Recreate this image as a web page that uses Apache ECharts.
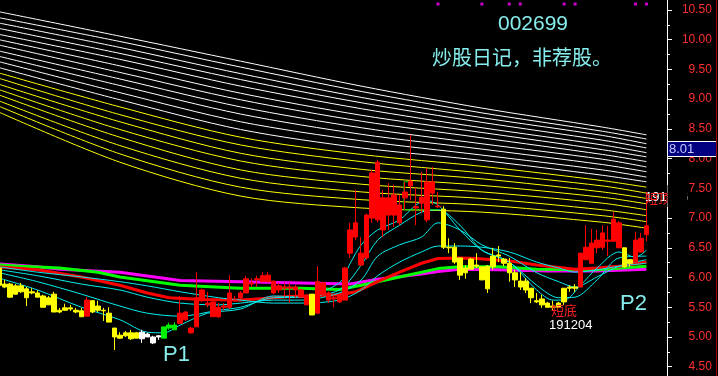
<!DOCTYPE html>
<html><head><meta charset="utf-8">
<script src="https://cdn.jsdelivr.net/npm/echarts@6/dist/echarts.min.js"></script>
<style>html,body{margin:0;padding:0;background:#000;}#c{width:718px;height:376px;}</style>
</head><body><div id="c"></div>
<script>
// ---- candles (price values) ----
const candleOpen  = [6.16,5.89,5.89,5.86,5.86,5.81,5.76,5.74,5.69,5.66, 5.72,5.45,5.49,5.49,5.45,5.44,5.35,5.61,5.52,5.45, 5.40,5.15,5.03,5.07,5.07,5.07,5.08,5.05,5.00,5.00, 4.98,5.15,5.12,5.23,5.29,5.07,5.17,5.61,5.54,5.34, 5.34,5.50,5.50,5.61,5.66,5.74,5.89,5.96,5.93,5.93, 5.74,5.79,5.82,5.82,5.79,5.67,5.54,5.72,5.40,5.71, 5.62,5.64,5.59,5.62,6.41,6.68,6.21,6.33,7.00,6.97, 6.80,7.05,7.05,6.92,7.34,7.54,7.17,7.25,6.97,7.42, 7.19,7.15,6.51,6.51,6.33,6.16,6.31,6.21,6.18,6.19, 6.36,6.38,6.31,6.24,6.08,5.94,5.94,5.82,5.61,5.64, 5.57,5.52,5.57,5.59,5.84,5.84,5.84,6.30,6.24,6.50, 6.51,6.61,6.61,6.50,6.50,6.30,6.26,6.43,6.72];
const candleClose = [5.87,5.84,5.67,5.72,5.76,5.66,5.74,5.67,5.50,5.54, 5.42,5.42,5.45,5.47,5.42,5.34,5.62,5.42,5.45,5.44, 5.25,5.00,4.98,5.02,4.97,4.98,4.97,5.00,4.90,5.02, 5.17,5.20,5.20,5.40,5.42,5.15,5.66,5.79,5.57,5.59, 5.50,5.52,5.74,5.62,5.74,5.98,5.91,5.98,6.03,6.04, 5.94,5.86,5.84,5.84,5.84,5.79,5.69,5.37,5.93,5.91, 5.74,5.66,5.69,6.16,6.80,6.92,6.41,7.05,7.76,7.94, 7.34,7.34,7.39,7.22,7.44,7.62,7.19,7.35,7.61,7.61, 7.20,6.51,6.50,6.26,6.04,6.08,6.14,6.19,5.96,5.81, 6.18,6.36,6.24,6.08,5.96,5.84,5.79,5.66,5.59,5.54, 5.50,5.50,5.50,5.82,5.82,5.82,6.41,6.51,6.58,6.63, 6.75,6.63,6.98,6.92,6.18,6.24,6.63,6.66,6.87];
const candleLow   = [5.82,5.82,5.66,5.71,5.74,5.52,5.72,5.67,5.50,5.54, 5.42,5.40,5.44,5.44,5.40,5.34,5.35,5.40,5.42,5.27, 5.25,4.78,4.97,5.00,4.95,4.98,4.90,5.00,4.88,4.95, 4.98,5.12,5.12,5.23,5.27,5.05,5.17,5.59,5.50,5.34, 5.32,5.45,5.47,5.59,5.64,5.74,5.84,5.84,5.93,5.93, 5.72,5.74,5.67,5.57,5.66,5.67,5.54,5.37,5.40,5.69, 5.57,5.50,5.57,5.62,6.33,6.63,6.19,6.30,6.92,6.93, 6.68,6.80,6.85,6.88,7.14,7.30,6.88,7.09,6.93,7.22, 7.17,6.48,6.41,6.23,5.96,5.98,6.14,6.16,5.96,5.74, 6.13,6.26,6.19,5.93,5.84,5.79,5.74,5.57,5.57,5.49, 5.49,5.45,5.49,5.54,5.76,5.76,5.84,6.30,6.24,6.41, 6.46,6.36,6.60,6.50,6.16,6.18,6.26,6.43,6.61];
const candleHigh  = [6.21,5.96,5.91,5.89,5.91,5.84,5.82,5.79,5.71,5.69, 5.76,5.49,5.56,5.54,5.49,5.49,5.67,5.62,5.61,5.49, 5.50,5.15,5.08,5.10,5.12,5.08,5.12,5.07,5.02,5.03, 5.17,5.24,5.25,5.69,5.44,5.17,6.09,5.81,5.76,5.62, 5.57,5.57,6.04,5.69,5.77,6.03,5.99,6.03,6.09,6.09, 5.94,5.91,5.91,5.91,5.87,5.81,5.71,5.72,6.19,5.93, 5.77,5.71,5.71,6.18,6.92,7.47,6.68,7.08,7.81,7.98, 7.47,7.59,7.56,7.39,7.61,8.40,7.51,7.78,7.84,7.86, 7.44,7.20,6.66,6.58,6.33,6.21,6.33,6.41,6.18,6.21, 6.50,6.53,6.33,6.33,6.13,6.09,5.99,5.82,5.74,5.71, 5.59,5.61,5.59,5.82,5.87,5.89,6.41,6.88,6.82,6.80, 6.88,6.87,7.10,6.95,6.50,6.31,6.77,6.75,7.44];
// Y yellow, R red, W white, G green
const candleColorCode = 'YYYYYYYYYYYYYYYYRYYYYYYYYYWWWWGGGRRRRRRRRRRRRRRRRRRRRRRRRYRRRRRRRRRRRRRRRRRRRRRRRYYYYYYYYYYYYYYYYYYYYYYYYYRRRRRRRRYYRRR';

// ---- moving-average lines: [candle index, price] ----
const maMagenta = [[0,6.23],[7,6.18],[11,6.14],[22,6.09],[33,5.95],[44,5.93],[55,5.91],[64,5.89],[69,5.97],[77,6.06],[80,6.10],[84,6.14],[91,6.13],[100,6.11],[109,6.11],[118,6.14]];
const maGreen   = [[0,6.21],[4,6.19],[11,6.16],[18,6.09],[22,6.01],[33,5.87],[44,5.82],[55,5.82],[62,5.80],[66,5.87],[73,6.01],[80,6.15],[84,6.18],[91,6.18],[98,6.14],[109,6.13],[118,6.19]];
const maRed     = [[0,6.18],[7,6.13],[15,6.01],[22,5.87],[27,5.74],[31,5.66],[37,5.63],[44,5.62],[47,5.64],[53,5.68],[62,5.71],[65,5.76],[69,5.93],[73,6.09],[77,6.24],[80,6.32],[84,6.33],[87,6.32],[93,6.28],[98,6.21],[105,6.14],[109,6.16],[113,6.19],[118,6.26]];
const maCyanA = [[0,6.18],[7,6.09],[15,6.01],[22,5.93],[27,5.86],[33,5.76],[40,5.66],[44,5.62],[50,5.57],[55,5.57],[62,5.62],[66,5.79],[69,6.03],[73,6.26],[77,6.43],[80,6.53],[84,6.53],[88,6.51],[93,6.43],[98,6.26],[102,6.16],[105,6.09],[109,6.13],[113,6.19],[118,6.24]];
const maCyanB = [[0,6.13],[7,6.03],[15,5.89],[22,5.79],[27,5.67],[33,5.57],[40,5.54],[44,5.57],[50,5.62],[55,5.62],[62,5.74],[66,5.96],[69,6.36],[73,6.55],[77,6.68],[80,6.92],[84,6.80],[88,6.55],[93,6.36],[98,6.08],[102,5.93],[105,5.84],[109,6.01],[113,6.19],[118,6.30]];
const maCyanC = [[0,6.08],[7,5.93],[15,5.72],[22,5.52],[27,5.40],[33,5.35],[40,5.45],[44,5.50],[50,5.66],[55,5.67],[62,5.79],[66,6.21],[69,6.63],[73,6.88],[77,7.10],[80,7.14],[84,6.88],[88,6.46],[93,6.26],[98,5.87],[102,5.66],[105,5.67],[109,5.96],[113,6.33],[118,6.36]];
const maCyanD = [[0,5.99],[7,5.79],[15,5.50],[22,5.29],[27,5.08],[30,5.07],[33,5.20],[38,5.40],[44,5.47],[50,5.69],[55,5.67],[62,5.91],[64,6.24],[66,6.55],[69,6.80],[73,6.97],[76,7.22],[78,7.30],[80,7.22],[82,7.02],[84,6.80],[88,6.46],[93,6.26],[98,5.79],[101,5.62],[103,5.62],[106,5.87],[109,6.16],[113,6.43],[116,6.34],[118,6.46]];
// green marker frame drawn inside the high red candles
const greenFrame = [[75.0,7.61],[73.8,7.61],[73.8,7.14],[80.0,7.14]];

// ---- long average band (white on top, yellow below), values at these candle indices ----
const bandKeys = [0,22,44,66,88,110,118];
const bandLines = [
 [10.47,10.06,9.64,9.22,8.85,8.53,8.40],
 [10.37,9.97,9.54,9.13,8.77,8.46,8.33],
 [10.28,9.87,9.43,9.03,8.69,8.39,8.25],
 [10.19,9.77,9.33,8.94,8.61,8.31,8.18],
 [10.09,9.67,9.22,8.84,8.52,8.23,8.10],
 [10.00,9.56,9.10,8.73,8.44,8.15,8.03],
 [9.91,9.45,8.99,8.63,8.35,8.07,7.95],
 [9.81,9.34,8.87,8.52,8.25,7.99,7.86],
 [9.72,9.23,8.75,8.41,8.16,7.90,7.78],
 [9.63,9.11,8.62,8.30,8.06,7.81,7.69],
 [9.53,8.99,8.49,8.18,7.97,7.72,7.61],
 [9.44,8.87,8.36,8.07,7.87,7.63,7.52],
 [9.35,8.74,8.23,7.95,7.76,7.54,7.42],
 [9.25,8.62,8.09,7.82,7.66,7.44,7.33],
 [9.16,8.49,7.96,7.70,7.55,7.35,7.24],
 [9.07,8.36,7.81,7.57,7.44,7.25,7.14],
 [8.97,8.22,7.67,7.44,7.33,7.14,7.04],
 [8.88,8.08,7.52,7.31,7.22,7.04,6.94],
 [8.78,7.94,7.37,7.17,7.10,6.93,6.83]
];
const bandWhiteCount = 11;

// signal dots along the top
const topDots = [80,88,93,95,103,105,116,118];
const topDotLevel = 10.60;

const N = candleOpen.length;
const cats = candleOpen.map((_, i) => String(i));
const colorMap = {Y:'#ffff00', R:'#ff0000', W:'#ffffff', G:'#00ee00'};

const candleData = candleOpen.map((o, i) => {
  const c = colorMap[candleColorCode[i]];
  return {value:[o, candleClose[i], candleLow[i], candleHigh[i]],
          itemStyle:{color:c, color0:c, borderColor:c, borderColor0:c, borderWidth:1}};
});

function lineSeries(data, color, width, z) {
  return {type:'line', xAxisIndex:1, yAxisIndex:0, data:data, symbol:'none', smooth:false,
          lineStyle:{color:color, width:width}, silent:true, z:z, animation:false};
}
const series = [];
bandLines.forEach((ln, k) => {
  series.push(Object.assign(lineSeries(bandKeys.map((ix, j) => [ix, ln[j]]), k < bandWhiteCount ? '#ffffff' : '#ffff00', 1, 1), {smooth:0.3}));
});
series.push(lineSeries(maMagenta, '#ff00ff', 3, 2));
series.push(lineSeries(maGreen, '#00ff00', 3, 2));
series.push(lineSeries(maRed, '#ff0000', 3, 2));
[maCyanA, maCyanB, maCyanC, maCyanD].forEach(d => series.push(Object.assign(lineSeries(d, '#00f0f0', 1, 3), {smooth:0.3})));
series.push(lineSeries(greenFrame, '#00dd00', 1, 4));
series.push({type:'candlestick', xAxisIndex:0, yAxisIndex:0, data:candleData, barWidth:5, z:5, animation:false});
series.push({type:'scatter', xAxisIndex:0, yAxisIndex:0, data:topDots.map(i => [String(i), topDotLevel]),
             symbol:'rect', symbolSize:[3,3], itemStyle:{color:'#ff00ff'}, silent:true, z:6, animation:false});

const cyanText = '#86ecec';
const chart = echarts.init(document.getElementById('c'), null, {renderer:'canvas'});
chart.setOption({
  backgroundColor:'#000000',
  animation:false,
  grid:{left:-3.53, width:652.7, top:-19.725, height:416.15, outerBoundsMode:'none', containLabel:false},
  xAxis:[
    {type:'category', data:cats, boundaryGap:true, show:false},
    {type:'value', min:-0.5, max:N - 0.5, show:false}
  ],
  yAxis:{type:'value', position:'right', offset:17.8, min:4, max:11, interval:0.5, z:10,
    axisLine:{show:true, onZero:false, lineStyle:{color:'#ffffff', width:1}},
    axisTick:{show:true, length:5, lineStyle:{color:'#ffffff'}},
    minorTick:{show:true, splitNumber:2, length:3, lineStyle:{color:'#ffffff'}},
    axisLabel:{color:'#ff3030', fontSize:12, fontFamily:'Liberation Sans', align:'right', margin:45,
               formatter:v => v.toFixed(2)},
    splitLine:{show:false}},
  series:series,
  graphic:[
    {type:'text', x:533, y:24, z:20, style:{text:'002699', fill:cyanText, font:'21px "Liberation Sans"', align:'center', verticalAlign:'middle'}},
    {type:'text', x:432, y:57, z:20, style:{text:'炒股日记，非荐股。', fill:cyanText, font:'20px "Noto Sans CJK SC"', align:'left', verticalAlign:'middle'}},
    {type:'text', x:163, y:355, z:20, style:{text:'P1', fill:cyanText, font:'22px "Liberation Sans"', align:'left', verticalAlign:'middle'}},
    {type:'text', x:620, y:304, z:20, style:{text:'P2', fill:cyanText, font:'22px "Liberation Sans"', align:'left', verticalAlign:'middle'}},
    {type:'text', x:551, y:310, z:20, style:{text:'短底', fill:'#ff2020', font:'13px "Noto Sans CJK SC"', align:'left', verticalAlign:'middle'}},
    {type:'text', x:549, y:325, z:20, style:{text:'191204', fill:'#ffffff', font:'13px "Liberation Sans"', align:'left', verticalAlign:'middle'}},
    {type:'text', x:645, y:197, z:20, style:{text:'191216', fill:'#ffffff', font:'13px "Liberation Sans"', align:'left', verticalAlign:'middle'}},
    {type:'text', x:645, y:198, z:21, style:{text:'短顶', fill:'#ff2020', font:'13px "Noto Sans CJK SC"', align:'left', verticalAlign:'middle'}},
    {type:'rect', z:25, shape:{x:667.5, y:185, width:20, height:22}, style:{fill:'#000000'}},
    {type:'rect', z:40, shape:{x:667.5, y:141.5, width:49, height:15}, style:{fill:'#000080', stroke:'#ffffff', lineWidth:1}},
    {type:'text', x:669, y:149.5, z:41, style:{text:'8.01', fill:'#c8c8ff', font:'13px "Liberation Sans"', align:'left', verticalAlign:'middle'}},
    {type:'line', z:40, shape:{x1:716.5, y1:0, x2:716.5, y2:376}, style:{stroke:'#a00000', lineWidth:1}}
  ]
});
</script></body></html>
